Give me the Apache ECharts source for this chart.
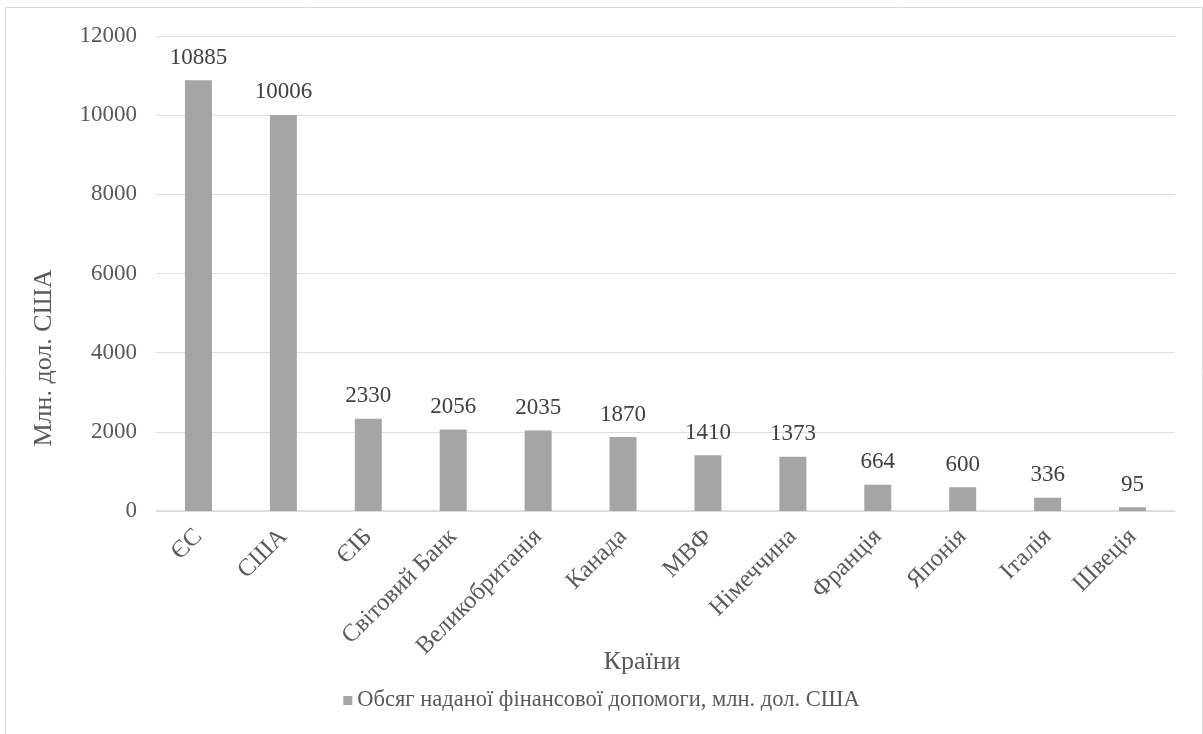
<!DOCTYPE html>
<html><head><meta charset="utf-8">
<script src="https://cdn.jsdelivr.net/npm/echarts@6/dist/echarts.min.js"></script>
<style>html,body{margin:0;padding:0;background:#fff}#c{width:1203px;height:734px}</style>
</head><body><div id="c"></div>
<script>
const categories = ['ЄС','США','ЄІБ','Світовий Банк','Великобританія','Канада','МВФ','Німеччина','Франція','Японія','Італія','Швеція'];
const values = [10885,10006,2330,2056,2035,1870,1410,1373,664,600,336,95];
const seriesName = 'Обсяг наданої фінансової допомоги, млн. дол. США';
const yTitle = 'Млн. дол. США';
const xTitle = 'Країни';
const FONT = '"Liberation Serif","Times New Roman",serif';
const chart = echarts.init(document.getElementById('c'));
chart.setOption({
  animation:false,
  textStyle:{fontFamily:FONT},
  graphic:[{type:'rect',shape:{x:5.5,y:7.5,width:1197,height:740},style:{fill:'none',stroke:'#d9d9d9',lineWidth:1}},
    {type:'text',x:642,y:662,style:{text:xTitle,font:'26px '+FONT,fill:'#595959',align:'center',verticalAlign:'middle'}},
    {type:'text',x:44,y:358,rotation:Math.PI/2,style:{text:yTitle,font:'26px '+FONT,fill:'#595959',align:'center',verticalAlign:'middle'}}],
  grid:{left:156,right:28,top:36,bottom:223,containLabel:false},
  legend:{top:684,left:'center',itemWidth:9,itemHeight:9,itemGap:4,
    textStyle:{fontFamily:FONT,fontSize:22.5,color:'#595959'},data:[{name:seriesName,icon:'rect'}]},
  xAxis:{type:'category',data:categories,
    axisLine:{lineStyle:{color:'#d9d9d9',width:1.5}},axisTick:{show:false},
    axisLabel:{rotate:45,interval:0,margin:22,fontFamily:FONT,fontSize:24.5,color:'#595959'}},
  yAxis:{type:'value',min:0,max:12000,interval:2000,
    axisLine:{show:false},axisTick:{show:false},
    axisLabel:{margin:19,fontFamily:FONT,fontSize:23,color:'#595959',formatter:v=>String(v)}},
  series:[{type:'bar',name:seriesName,data:values,barWidth:27,
    itemStyle:{color:'#a5a5a5'},
    label:{show:true,position:'top',distance:11,fontFamily:FONT,fontSize:23,color:'#404040'}}]
});
</script></body></html>
